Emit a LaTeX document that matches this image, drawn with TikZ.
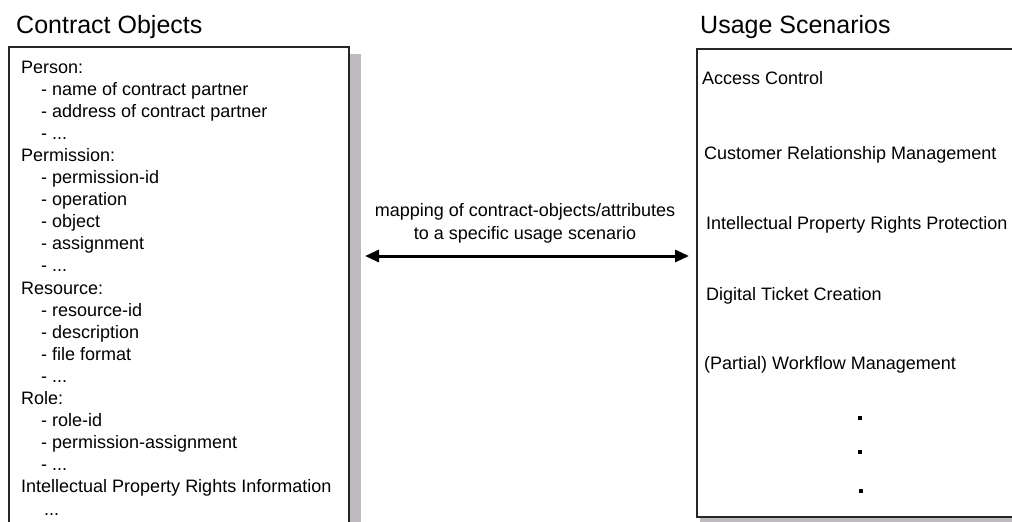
\documentclass[tikz,border=0pt]{standalone}
\usepackage{fontspec}
\setmainfont{Liberation Sans}
\usetikzlibrary{arrows.meta}
\definecolor{shadowgray}{RGB}{190,186,190}
\tikzset{
  title/.style={anchor=base west, inner sep=0pt, font=\fontsize{25}{30}\selectfont},
  item/.style={anchor=base west, inner sep=0pt, font=\fontsize{18}{22}\selectfont},
  panel/.style={draw=black!85, line width=1.3pt, fill=white},
  shade/.style={fill=shadowgray, draw=none},
  dotmark/.style={fill=black, draw=none, minimum size=4.5pt, inner sep=0pt},
  maparrow/.style={line width=3pt, {Triangle[length=14pt,width=12pt]}-{Triangle[length=14pt,width=12pt]}}
}
\newcommand{\lrow}[4]{\node[item] (#1) at (#2,73+22.1*#3) {#4};}
\begin{document}
\begin{tikzpicture}[x=1pt,y=-1pt]
\useasboundingbox (0,0) rectangle (1012,522);
\clip (0,0) rectangle (1012,522);
% titles
\node[title] (t1) at (16,33) {Contract Objects};
\node[title] (t2) at (700,33) {Usage Scenarios};
% left panel with shadow
\fill[shade] (349,54) rectangle (361,530);
\draw[panel] (9,47) rectangle (349,540);
% left texts
\lrow{l0}{21}{0}{Person:}
\lrow{l1}{41}{1}{- name of contract partner}
\lrow{l2}{41}{2}{- address of contract partner}
\lrow{l3}{41}{3}{- ...}
\lrow{l4}{21}{4}{Permission:}
\lrow{l5}{41}{5}{- permission-id}
\lrow{l6}{41}{6}{- operation}
\lrow{l7}{41}{7}{- object}
\lrow{l8}{41}{8}{- assignment}
\lrow{l9}{41}{9}{- ...}
\lrow{l10}{21}{10}{Resource:}
\lrow{l11}{41}{11}{- resource-id}
\lrow{l12}{41}{12}{- description}
\lrow{l13}{41}{13}{- file format}
\lrow{l14}{41}{14}{- ...}
\lrow{l15}{21}{15}{Role:}
\lrow{l16}{41}{16}{- role-id}
\lrow{l17}{41}{17}{- permission-assignment}
\lrow{l18}{41}{18}{- ...}
\lrow{l19}{21}{19}{Intellectual Property Rights Information}
\lrow{l20}{44}{20}{...}
% right panel with shadow
\fill[shade] (700,517) rectangle (1020,530);
\draw[panel] (697,49) rectangle (1030,517);
\node[item] (r1) at (702,84) {Access Control};
\node[item] (r2) at (704,159) {Customer Relationship Management};
\node[item] (r3) at (706,229) {Intellectual Property Rights Protection};
\node[item] (r4) at (706,300) {Digital Ticket Creation};
\node[item] (r5) at (704,369) {(Partial) Workflow Management};
\node[dotmark] (d1) at (860,418) {};
\node[dotmark] (d2) at (860,452) {};
\node[dotmark] (d3) at (861,491) {};
% arrow
\coordinate (al) at (365,256);
\coordinate (ar) at (689,256);
\draw[maparrow] (al) -- (ar);
\node[anchor=base, inner sep=0pt, font=\fontsize{18}{22}\selectfont] (lab1) at (525,216) {mapping of contract-objects/attributes};
\node[anchor=base, inner sep=0pt, font=\fontsize{18}{22}\selectfont] (lab2) at (525,239) {to a specific usage scenario};
\end{tikzpicture}
\end{document}
